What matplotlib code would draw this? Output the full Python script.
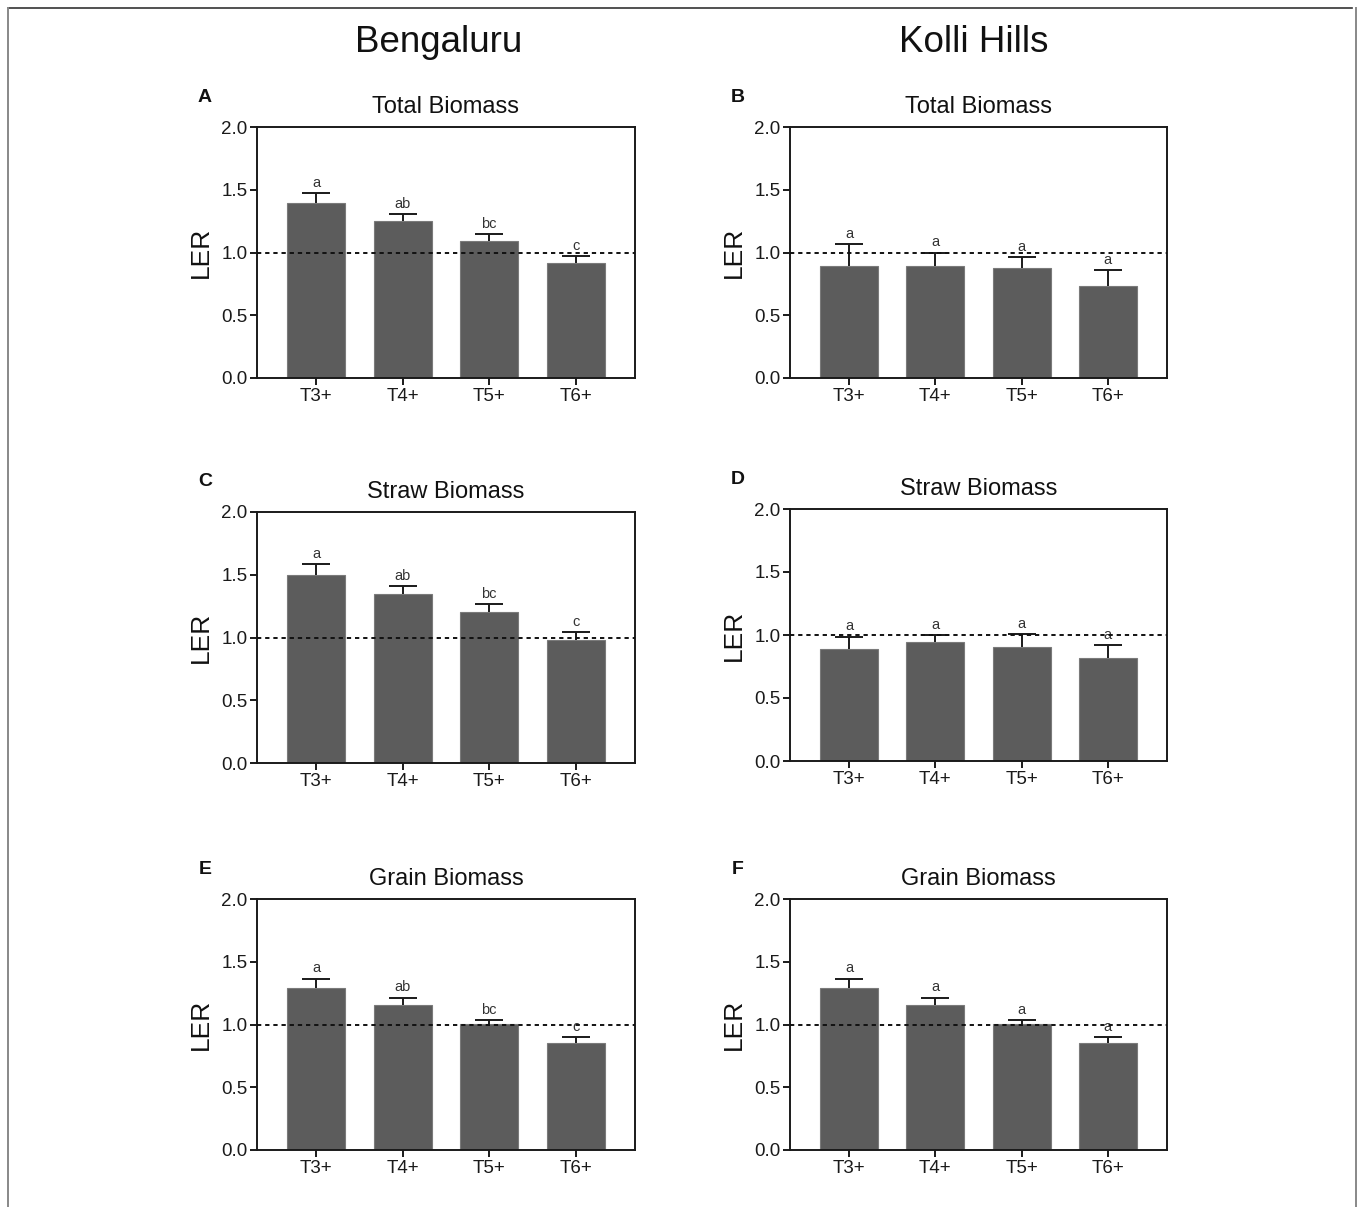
import matplotlib
matplotlib.use("Agg")
import matplotlib.pyplot as plt
from matplotlib.lines import Line2D
import numpy as np

plt.rcParams['font.family'] = ['Liberation Sans', 'DejaVu Sans']

treatments = ["T3+", "T4+", "T5+", "T6+"]
sites = ["Bengaluru", "Kolli Hills"]
panel_titles = ["Total Biomass", "Straw Biomass", "Grain Biomass"]
panel_letters = ["A", "B", "C", "D", "E", "F"]

# LER means and standard errors (upward bars only)
total_bengaluru = [1.395, 1.248, 1.095, 0.914]
total_bengaluru_se = [0.080, 0.060, 0.053, 0.058]
total_kolli = [0.892, 0.890, 0.879, 0.736]
total_kolli_se = [0.173, 0.110, 0.082, 0.122]

straw_bengaluru = [1.500, 1.349, 1.203, 0.980]
straw_bengaluru_se = [0.086, 0.061, 0.064, 0.061]
straw_kolli = [0.887, 0.948, 0.906, 0.816]
straw_kolli_se = [0.101, 0.051, 0.098, 0.101]

grain_bengaluru = [1.291, 1.153, 1.001, 0.855]
grain_bengaluru_se = [0.074, 0.061, 0.035, 0.043]
grain_kolli = [1.291, 1.153, 1.001, 0.855]
grain_kolli_se = [0.074, 0.061, 0.035, 0.043]

letters_bengaluru = ["a", "ab", "bc", "c"]
letters_kolli = ["a", "a", "a", "a"]

yticks = [0.0, 0.5, 1.0, 1.5, 2.0]

W, H = 1360, 1207
fig = plt.figure(figsize=(W / 100, H / 100), dpi=100)

# axes boxes in pixel coordinates: left, top, right, bottom
boxes = [
    (257, 127, 635, 378), (790, 127, 1167, 378),
    (257, 512, 635, 763), (790, 509, 1167, 761),
    (257, 899, 635, 1150), (790, 899, 1167, 1150),
]

data = [
    (total_bengaluru, total_bengaluru_se, letters_bengaluru),
    (total_kolli, total_kolli_se, letters_kolli),
    (straw_bengaluru, straw_bengaluru_se, letters_bengaluru),
    (straw_kolli, straw_kolli_se, letters_kolli),
    (grain_bengaluru, grain_bengaluru_se, letters_bengaluru),
    (grain_kolli, grain_kolli_se, letters_kolli),
]

bar_color = "#5c5c5c"
x = np.arange(len(treatments))

for i, ((vals, se, lets), (l, t, r, b)) in enumerate(zip(data, boxes)):
    ax = fig.add_axes([l / W, 1 - b / H, (r - l) / W, (b - t) / H])
    ax.bar(x, vals, width=0.67, color=bar_color, edgecolor="#7a7a7a",
           linewidth=0.8, zorder=2)
    eb = ax.errorbar(x, vals, yerr=[np.zeros(len(se)), se], fmt="none",
                     ecolor="#1a1a1a", elinewidth=1.4, capsize=10,
                     capthick=1.4, zorder=3)
    # keep only the upper cap
    eb[1][0].set_visible(False)
    ax.axhline(1.0, color="#111111", linewidth=1.4,
               linestyle=(0, (2.2, 2.0)), zorder=4)
    for xi, v, s, lab in zip(x, vals, se, lets):
        ax.annotate(lab, (xi, v + s), xytext=(0, 4.5), textcoords="offset points",
                    ha="center", va="baseline", fontsize=10.5, color="#333333")
    ax.set_xlim(-0.685, 3.685)
    ax.set_ylim(0, 2.0)
    ax.set_yticks(yticks)
    ax.set_yticklabels([f"{v:.1f}" for v in yticks])
    ax.set_xticks(x)
    ax.set_xticklabels(treatments)
    ax.tick_params(axis="both", direction="out", length=5, width=1.4,
                   labelsize=13.5, colors="#1a1a1a", pad=2)
    for sp in ax.spines.values():
        sp.set_linewidth(1.4)
        sp.set_color("#1a1a1a")
    ax.set_ylabel("LER", fontsize=19, color="#111111", labelpad=6)
    ax.set_title(panel_titles[i // 2], fontsize=17, color="#111111", pad=10)
    fig.text((l - 52) / W, 1 - (t - 30) / H, panel_letters[i], fontsize=14,
             fontweight="bold", ha="center", va="center", color="#111111")

fig.text(439 / W, 1 - 42 / H, sites[0], fontsize=26.5, ha="center",
         va="center", color="#111111")
fig.text(974 / W, 1 - 42 / H, sites[1], fontsize=26.5, ha="center",
         va="center", color="#111111")

# outer frame: top, left and right edges
fig.add_artist(Line2D([8 / W, 1352 / W], [1 - 8 / H, 1 - 8 / H],
                      transform=fig.transFigure, color="#333333", lw=1.2))
fig.add_artist(Line2D([8 / W, 8 / W], [0, 1 - 8 / H],
                      transform=fig.transFigure, color="#888888", lw=1.4))
fig.add_artist(Line2D([1356 / W, 1356 / W], [0, 1 - 8 / H],
                      transform=fig.transFigure, color="#888888", lw=1.4))

fig.savefig("out.png", dpi=100)
